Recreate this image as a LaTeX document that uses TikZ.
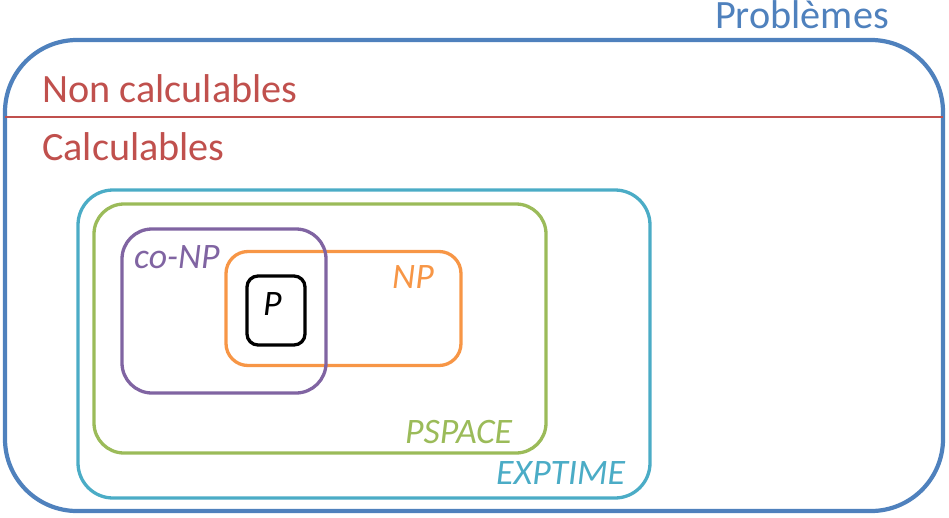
\documentclass[tikz,border=0pt]{standalone}
\usepackage{fontspec}
\setmainfont{Carlito}
\definecolor{cblue}{HTML}{4F81BD}
\definecolor{cred}{HTML}{C0504D}
\definecolor{ccyan}{HTML}{4BACC6}
\definecolor{cgreen}{HTML}{9BBB59}
\definecolor{cpurple}{HTML}{8064A2}
\definecolor{corange}{HTML}{F79646}
\tikzset{
  setbox/.style={draw, rectangle, inner sep=0pt, outer sep=0pt, line width=3.3pt},
  biglabel/.style={anchor=base west, inner sep=0pt, font=\fontsize{40.2}{40}\selectfont},
  classlabel/.style={anchor=base west, inner sep=0pt, font=\fontsize{35.8}{36}\selectfont\itshape},
}
\begin{document}
\begin{tikzpicture}[x=1pt,y=-1pt]
\useasboundingbox (0,0) rectangle (949,517);
\node[setbox, cblue, line width=4.2pt, rounded corners=72pt, minimum width=938pt, minimum height=471pt] (outer) at (474,275.5) {};
\coordinate (sepL) at (5,117);
\coordinate (sepR) at (943,117);
\draw[cred, line width=2.4pt] (sepL) -- (sepR);
\node[setbox, ccyan, rounded corners=35pt, minimum width=572pt, minimum height=308pt] (exptime) at (364,344) {};
\node[setbox, cgreen, rounded corners=30pt, minimum width=452pt, minimum height=249pt] (pspace) at (320,328.5) {};
\node[setbox, corange, rounded corners=22pt, minimum width=235pt, minimum height=114pt] (np) at (343.5,308.5) {};
\node[setbox, cpurple, rounded corners=30pt, minimum width=204pt, minimum height=164pt] (conp) at (224,311) {};
\node[setbox, black, rounded corners=11pt, minimum width=58pt, minimum height=69pt] (p) at (276,310.5) {};
\node[biglabel, cblue] (lprob) at (715,28) {Problèmes};
\node[biglabel, cred] (lnon) at (42,102) {Non calculables};
\node[biglabel, cred] (lcalc) at (42,160) {Calculables};
\node[classlabel, cpurple] (lconp) at (134,268) {co-NP};
\node[classlabel, corange] (lnp) at (392,288) {NP};
\node[classlabel, black] (lp) at (263,315) {P};
\node[classlabel, cgreen] (lpspace) at (405,443) {PSPACE};
\node[classlabel, ccyan] (lexp) at (496,484) {EXPTIME};
\end{tikzpicture}
\end{document}
